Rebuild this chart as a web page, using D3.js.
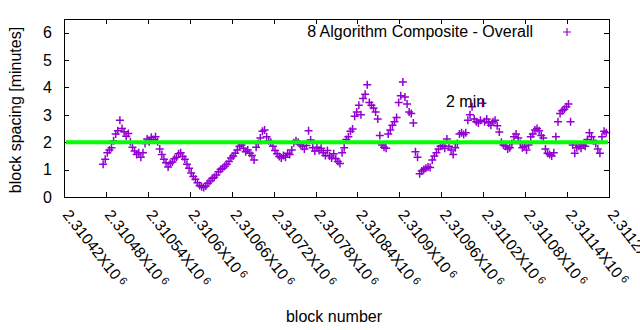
<!DOCTYPE html>
<html>
<head>
<meta charset="utf-8">
<script src="https://cdn.jsdelivr.net/npm/d3@7"></script>
<style>
  body { margin: 0; background: #fff; }
  text { font-family: "Liberation Sans", Arial, sans-serif; fill: #000; }
</style>
</head>
<body>
<svg id="chart" width="640" height="330"></svg>
<script>
// Block spacing (minutes) sampled every third block.
const firstBlock = 2310476;
const blockStep = 3;
const spacingMinutes = [
  1.2, 1.38, 1.62, 1.72, 1.8, 2.05, 2.3, 2.42, 2.8, 2.5,
  2.38, 2.22, 2.32, 2.02, 1.82, 1.68, 1.55, 1.62, 1.45, 1.62,
  1.95, 2.12, 2.02, 2.18, 2.1, 2.2, 2.02, 1.75, 1.55, 1.38,
  1.25, 1.1, 1.22, 1.28, 1.4, 1.45, 1.58, 1.62, 1.48, 1.38,
  1.2, 1.05, 0.88, 0.75, 0.65, 0.52, 0.42, 0.37, 0.35, 0.4,
  0.5, 0.58, 0.68, 0.72, 0.8, 0.92, 1.0, 1.05, 1.12, 1.2,
  1.3, 1.42, 1.5, 1.6, 1.72, 1.85, 1.9, 1.78, 1.65, 1.72,
  1.6, 1.52, 1.35, 1.82, 1.95, 2.15, 2.4, 2.45, 2.2, 2.05,
  2.0, 1.85, 1.7, 1.58, 1.48, 1.42, 1.52, 1.45, 1.6, 1.55,
  1.72, 1.98, 2.05, 2.0, 1.92, 1.85, 1.75, 1.88, 2.42, 2.08,
  1.8, 1.68, 1.82, 1.7, 1.78, 1.62, 1.52, 1.7, 1.5, 1.42,
  1.58, 1.4, 1.3, 1.22, 1.62, 1.8, 2.1, 2.2, 2.4, 2.48,
  2.95, 3.1, 3.35, 3.0, 3.6, 3.75, 4.1, 3.45, 3.35, 3.25,
  3.1, 2.85, 2.25, 1.9, 1.82, 1.78, 2.3, 2.45, 2.62, 2.75,
  2.9, 3.45, 3.7, 4.2, 3.65, 3.4, 3.1, 3.05, 2.7, 1.65,
  1.45, 0.85, 0.95, 1.0, 1.05, 1.1, 1.08, 1.35, 1.5, 1.62,
  1.75, 1.85, 1.88, 1.78, 2.12, 1.85, 1.72, 1.55, 1.8, 1.95,
  2.3, 2.35, 2.28, 2.35, 2.8, 3.0, 3.3, 2.85, 2.75, 2.7,
  2.8, 3.42, 2.75, 2.85, 2.7, 2.62, 2.75, 2.8, 2.6, 2.37,
  2.0, 1.9, 1.85, 1.75, 1.8, 1.95, 2.2, 2.3, 2.15, 1.95,
  1.8, 1.85, 1.72, 1.9, 2.2, 2.3, 2.45, 2.5, 2.42, 2.25,
  2.15, 1.75, 1.6, 1.55, 1.5, 1.62, 2.2, 2.75, 3.05, 3.15,
  3.2, 3.3, 3.4, 2.75, 1.9, 1.6, 1.8, 1.85, 1.78, 1.9,
  1.85, 2.1, 2.35, 2.2, 2.05, 1.95, 1.75, 1.6, 2.2, 2.4,
  2.35
];
const xTicks = [2310420, 2310480, 2310540, 2310600, 2310660, 2310720, 2310780,
                2310840, 2310900, 2310960, 2311020, 2311080, 2311140, 2311200];
const yTicks = [0, 1, 2, 3, 4, 5, 6];
const targetSpacing = 2;
const seriesTitle = "8 Algorithm Composite - Overall";
const targetLabel = "2 min";
const xTitle = "block number";
const yTitle = "block spacing [minutes]";

const points = spacingMinutes.map((v, i) => ({ block: firstBlock + i * blockStep, value: v }));

const svg = d3.select("#chart");
const plot = { left: 64, right: 609, top: 19, bottom: 197 };

const x = d3.scaleLinear().domain([2310420, 2311200]).range([plot.left, plot.right]);
const y = d3.scaleLinear().domain([0, 6.5]).range([plot.bottom, plot.top]);

const purple = "#9400d3";
const plusHalf = 4;

function plusPath(cx, cy) {
  return `M${cx - plusHalf},${cy}H${cx + plusHalf}M${cx},${cy - plusHalf}V${cy + plusHalf}`;
}

// Inward ticks on all four sides
const tickLen = 5;
const ticks = svg.append("g").attr("stroke", "#000").attr("stroke-width", 1);
xTicks.forEach(t => {
  const px = Math.round(x(t)) + 0.5;
  ticks.append("line").attr("x1", px).attr("x2", px).attr("y1", plot.bottom).attr("y2", plot.bottom - tickLen);
  ticks.append("line").attr("x1", px).attr("x2", px).attr("y1", plot.top).attr("y2", plot.top + tickLen);
});
yTicks.forEach(t => {
  const py = Math.round(y(t)) + 0.5;
  ticks.append("line").attr("x1", plot.left).attr("x2", plot.left + tickLen).attr("y1", py).attr("y2", py);
  ticks.append("line").attr("x1", plot.right).attr("x2", plot.right - tickLen).attr("y1", py).attr("y2", py);
});

// Y tick labels
svg.append("g").selectAll("text").data(yTicks).join("text")
  .attr("x", 52).attr("y", d => y(d)).attr("dy", "0.36em")
  .attr("text-anchor", "end").attr("font-size", 16)
  .text(d => d);

// X tick labels, rotated, in a mantissa x 10^6 form
const xl = svg.append("g").selectAll("text").data(xTicks).join("text")
  .attr("font-size", 15.5)
  .attr("transform", d => `translate(${x(d) - 2},215) rotate(52)`);
xl.append("tspan").text(d => String(+(d / 1e6).toFixed(5)) + "X10");
xl.append("tspan").attr("font-size", 11).attr("dx", 3).attr("dy", -4).text("6");

// Data points
svg.append("g").attr("stroke", purple).attr("stroke-width", 1.5).attr("fill", "none")
  .selectAll("path").data(points).join("path")
  .attr("d", d => plusPath(x(d.block), y(d.value)));

// Target spacing line
const line = d3.line().x(d => x(d)).y(() => y(targetSpacing));
svg.append("path")
  .attr("d", line([x.invert(plot.left + 2), x.invert(plot.right - 1)]))
  .attr("stroke", "#00ff00").attr("stroke-width", 4).attr("fill", "none");

// Frame
svg.append("rect")
  .attr("x", plot.left + 0.5).attr("y", plot.top + 0.5)
  .attr("width", plot.right - plot.left).attr("height", plot.bottom - plot.top)
  .attr("fill", "none").attr("stroke", "#000").attr("stroke-width", 1);

// Legend
svg.append("text").attr("x", 533).attr("y", 37).attr("text-anchor", "end")
  .attr("font-size", 16).text(seriesTitle);
svg.append("path").attr("d", plusPath(567, 32))
  .attr("stroke", purple).attr("stroke-width", 1.2).attr("fill", "none");

// Annotation for the 2 minute target
svg.append("text").attr("x", 446).attr("y", 107).attr("font-size", 16).text(targetLabel);

// Axis titles
svg.append("text").attr("x", 334).attr("y", 322).attr("text-anchor", "middle")
  .attr("font-size", 16).text(xTitle);
svg.append("text").attr("transform", "translate(21,110) rotate(-90)")
  .attr("text-anchor", "middle").attr("font-size", 16).text(yTitle);
</script>
</body>
</html>
